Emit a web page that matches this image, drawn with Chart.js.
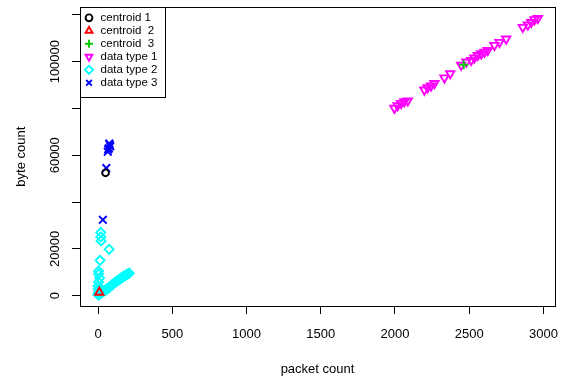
<!DOCTYPE html>
<html>
<head>
<meta charset="utf-8">
<script src="https://cdn.jsdelivr.net/npm/chart.js@4.4.1/dist/chart.umd.min.js"></script>
<style>
  html, body { margin: 0; padding: 0; background: #ffffff; }
  #wrap { width: 563px; height: 381px; position: relative; }
</style>
</head>
<body>
<div id="wrap"><canvas id="c" width="563" height="381"></canvas></div>
<script>
// ---------- data ----------
const xTitle = "packet count";
const yTitle = "byte count";
const xTicks = [0, 500, 1000, 1500, 2000, 2500, 3000];
const xTickLabels = ["0", "500", "1000", "1500", "2000", "2500", "3000"];
const yTicks = [0, 20000, 40000, 60000, 80000, 100000, 120000];
const yTickLabels = ["0", "20000", "", "60000", "", "100000", ""];
const xRange = [-122, 3078];
const yRange = [-4430, 123230];

const legendLabels = ["centroid 1", "centroid  2", "centroid  3", "data type 1", "data type 2", "data type 3"];

const centroid1 = [[50, 52500]];
const centroid2 = [[8, 1400]];
const centroid3 = [[2463, 98700]];

const dataType1 = [
  [1996, 80100], [2018, 81200], [2041, 82200], [2063, 82900], [2086, 83300],
  [2198, 87900], [2220, 88900], [2243, 89700], [2266, 90700],
  [2333, 93100], [2372, 94900],
  [2446, 98500], [2481, 99900], [2513, 100600], [2535, 101600], [2558, 102700],
  [2581, 103400], [2603, 104100], [2625, 104800], [2670, 107000], [2704, 108300],
  [2749, 109700],
  [2861, 114700], [2895, 115700], [2918, 116800], [2940, 118000], [2962, 118500]
];

const dataType2 = [
  [18, 27000], [18, 25100], [20, 23400], [74, 19800], [13, 15100],
  [3, 10500], [3, 9200], [10, 7500], [3, 5800], [0, 4100],
  [0, 300], [1, 500], [3, 1000], [5, 2000], [2, 2800], [7, 3000], [4, 1500],
  [2, 400], [4, 700], [6, 900], [8, 600], [10, 1100], [12, 800], [14, 1300],
  [16, 900], [18, 1500], [20, 1200], [22, 1700], [25, 1400], [28, 1900],
  [30, 1600], [33, 2000], [36, 1800], [40, 2200], [44, 2100], [48, 2500],
  [52, 2400], [56, 2700], [60, 2900], [65, 3000], [70, 3300], [75, 3400],
  [80, 3700], [90, 4300], [98, 4800], [105, 5200], [112, 5500], [118, 5800],
  [124, 6100], [130, 6400], [136, 6600], [142, 6900], [148, 7100], [154, 7400],
  [160, 7700], [166, 7900], [172, 8200], [178, 8400], [184, 8700], [190, 8900],
  [196, 9100], [203, 9400], [210, 9600]
];

const dataType3 = [
  [32, 32400], [55, 54500], [65, 61500], [72, 63000], [78, 64500],
  [82, 63800], [68, 62500], [75, 65000]
];

// ---------- styles ----------
const FONT = '"Liberation Sans", Arial, Helvetica, sans-serif';
const styles = [
  { color: "#000000", pointStyle: "circle",   radius: 3.4, rotation: 0 },
  { color: "#FF0000", pointStyle: "triangle", radius: 4.8, rotation: 0 },
  { color: "#00CD00", pointStyle: "cross",    radius: 4.5, rotation: 0 },
  { color: "#FF00FF", pointStyle: "triangle", radius: 4.8, rotation: 180 },
  { color: "#00FFFF", pointStyle: "rectRot",  radius: 4.5, rotation: 0 },
  { color: "#0000FF", pointStyle: "crossRot", radius: 5.4, rotation: 0 }
];
const seriesData = [centroid1, centroid2, centroid3, dataType1, dataType2, dataType3];

const toXY = arr => arr.map(p => ({ x: p[0], y: p[1] }));

// Centroids first so they are drawn on top (dataset 0 drawn last in Chart.js)
const datasets = seriesData.map((d, i) => ({
  label: legendLabels[i],
  data: toXY(d),
  pointStyle: styles[i].pointStyle,
  pointRadius: styles[i].radius,
  pointHoverRadius: styles[i].radius,
  pointRotation: styles[i].rotation,
  borderColor: styles[i].color,
  backgroundColor: "rgba(0,0,0,0)",
  pointBorderWidth: 1.9,
  borderWidth: 1.9,
  showLine: false
}));

function drawMarker(ctx, style, x, y) {
  const r = style.radius;
  ctx.save();
  ctx.strokeStyle = style.color;
  ctx.lineWidth = 1.9;
  ctx.beginPath();
  if (style.pointStyle === "circle") {
    ctx.arc(x, y, r, 0, Math.PI * 2);
  } else if (style.pointStyle === "triangle") {
    let rad = style.rotation * Math.PI / 180;
    for (let k = 0; k < 3; k++) {
      const px = x + Math.sin(rad) * r, py = y - Math.cos(rad) * r;
      if (k === 0) ctx.moveTo(px, py); else ctx.lineTo(px, py);
      rad += 2 * Math.PI / 3;
    }
    ctx.closePath();
  } else if (style.pointStyle === "cross") {
    ctx.moveTo(x - r, y); ctx.lineTo(x + r, y);
    ctx.moveTo(x, y - r); ctx.lineTo(x, y + r);
  } else if (style.pointStyle === "rectRot") {
    ctx.moveTo(x, y - r); ctx.lineTo(x + r, y); ctx.lineTo(x, y + r); ctx.lineTo(x - r, y);
    ctx.closePath();
  } else if (style.pointStyle === "crossRot") {
    const o = r * Math.SQRT1_2;
    ctx.moveTo(x - o, y - o); ctx.lineTo(x + o, y + o);
    ctx.moveTo(x - o, y + o); ctx.lineTo(x + o, y - o);
  }
  ctx.stroke();
  ctx.restore();
}

const decorPlugin = {
  id: "decor",
  afterDraw(chart) {
    const ctx = chart.ctx;
    const a = chart.chartArea;
    const xs = chart.scales.x, ys = chart.scales.y;
    ctx.save();
    // box
    ctx.strokeStyle = "#000";
    ctx.lineWidth = 1;
    ctx.strokeRect(Math.round(a.left) + 0.5, Math.round(a.top) + 0.5,
                   Math.round(a.right - a.left), Math.round(a.bottom - a.top));
    // tick labels
    ctx.fillStyle = "#000";
    ctx.font = "13px " + FONT;
    ctx.textAlign = "center";
    ctx.textBaseline = "middle";
    xTicks.forEach((v, i) => {
      ctx.fillText(xTickLabels[i], xs.getPixelForValue(v), 334);
    });
    yTicks.forEach((v, i) => {
      if (!yTickLabels[i]) return;
      ctx.save();
      ctx.translate(55, ys.getPixelForValue(v));
      ctx.rotate(-Math.PI / 2);
      ctx.fillText(yTickLabels[i], 0, 0);
      ctx.restore();
    });
    // axis titles
    ctx.fillText(xTitle, (a.left + a.right) / 2, 369);
    ctx.save();
    ctx.translate(21, (a.top + a.bottom) / 2);
    ctx.rotate(-Math.PI / 2);
    ctx.fillText(yTitle, 0, 0);
    ctx.restore();
    // legend
    const lx = Math.round(a.left) + 0.5, ly = Math.round(a.top) + 0.5;
    ctx.fillStyle = "#fff";
    ctx.fillRect(lx, ly, 85, 90);
    ctx.strokeStyle = "#000";
    ctx.lineWidth = 1;
    ctx.strokeRect(lx, ly, 85, 90);
    ctx.font = "11.5px " + FONT;
    ctx.textAlign = "left";
    ctx.fillStyle = "#000";
    legendLabels.forEach((lab, i) => {
      const cy = 17.8 + i * 13.0;
      const st = Object.assign({}, styles[i], { radius: Math.min(styles[i].radius, 4) });
      drawMarker(ctx, st, 89, cy);
      ctx.fillStyle = "#000";
      ctx.fillText(lab, 100.5, cy + 0.5);
    });
    ctx.restore();
  }
};

new Chart(document.getElementById("c"), {
  type: "scatter",
  data: { datasets },
  options: {
    responsive: false,
    animation: false,
    devicePixelRatio: 1,
    layout: { padding: { left: 0, right: 8, top: 5, bottom: 0 } },
    plugins: { legend: { display: false }, tooltip: { enabled: false } },
    scales: {
      x: {
        type: "linear",
        min: xRange[0], max: xRange[1],
        afterBuildTicks(s) { s.ticks = xTicks.map(v => ({ value: v })); },
        afterFit(s) { s.height = 75; },
        ticks: { display: false },
        grid: { display: true, drawOnChartArea: false, drawTicks: true, tickLength: 8, color: "#000", lineWidth: 1 },
        border: { display: true, color: "#000", width: 1 },
        title: { display: false }
      },
      y: {
        type: "linear",
        min: yRange[0], max: yRange[1],
        afterBuildTicks(s) { s.ticks = yTicks.map(v => ({ value: v })); },
        afterFit(s) { s.width = 80; },
        ticks: { display: false },
        grid: { display: true, drawOnChartArea: false, drawTicks: true, tickLength: 8, color: "#000", lineWidth: 1 },
        border: { display: true, color: "#000", width: 1 },
        title: { display: false }
      }
    }
  },
  plugins: [decorPlugin]
});
</script>
</body>
</html>
